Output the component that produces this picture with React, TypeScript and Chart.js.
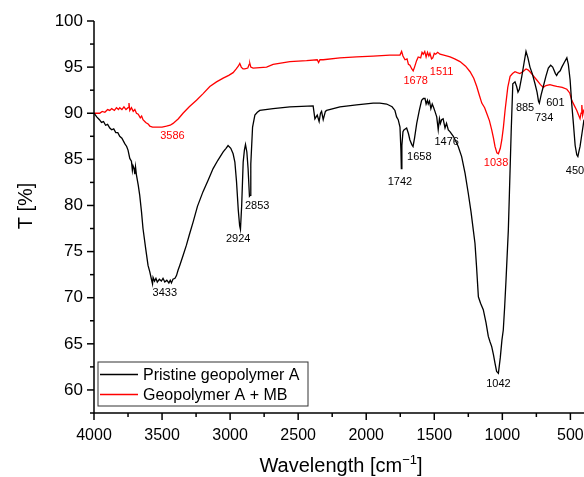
import { useEffect, useRef } from "react";
import { Chart, registerables } from "chart.js";

Chart.register(...registerables);

const seriesNames = ["Pristine geopolymer A", "Geopolymer A + MB"];
const seriesColors = ["#000000", "#ff0000"];

// [wavenumber cm-1, transmittance %]
const pristinePoints: [number, number][] = [
  [4000, 90.0], [3980, 89.6], [3960, 89.3], [3945, 89.0], [3930, 89.1], [3915, 88.7],
  [3900, 88.8], [3884, 88.4], [3870, 88.2], [3855, 88.3], [3840, 87.9], [3825, 87.9],
  [3811, 87.5], [3795, 87.3], [3774, 86.7], [3760, 86.4], [3750, 86.0], [3737, 85.1],
  [3725, 84.8], [3718, 83.8], [3713, 84.3], [3705, 84.0], [3700, 83.4], [3695, 84.2],
  [3688, 83.3], [3675, 82.2], [3664, 81.1], [3651, 79.3], [3640, 77.5], [3620, 75.3],
  [3603, 73.5], [3590, 72.8], [3578, 72.0], [3570, 71.5], [3566, 72.2], [3555, 71.8],
  [3545, 72.1], [3535, 71.7], [3520, 72.0], [3505, 71.8], [3493, 72.1], [3480, 71.7],
  [3465, 71.9], [3450, 71.6], [3440, 71.9], [3431, 71.6], [3420, 72.0], [3405, 72.1],
  [3394, 72.4], [3382, 73.0], [3370, 73.5], [3345, 74.6], [3321, 75.7], [3300, 76.8],
  [3272, 78.2], [3240, 79.9], [3199, 81.5], [3160, 82.8], [3125, 84.0], [3090, 84.9],
  [3051, 85.8], [3030, 86.2], [3015, 86.5], [2995, 86.2], [2978, 85.6], [2965, 84.7],
  [2953, 82.6], [2940, 79.5], [2930, 77.8], [2924, 77.4], [2915, 80.0], [2904, 84.7],
  [2895, 86.0], [2887, 86.6], [2877, 85.8], [2868, 84.0], [2858, 81.0], [2853, 81.1],
  [2848, 84.5], [2835, 88.5], [2818, 89.8], [2800, 90.1], [2782, 90.3], [2684, 90.5],
  [2561, 90.7], [2390, 90.8], [2377, 89.4], [2360, 89.8], [2346, 89.1], [2336, 90.0],
  [2328, 90.2], [2316, 89.3], [2300, 90.2], [2291, 90.3], [2193, 90.7], [2071, 90.9],
  [1949, 91.1], [1900, 91.1], [1850, 91.0], [1810, 90.7], [1789, 90.3], [1777, 89.6],
  [1765, 89.3], [1752, 88.5], [1745, 86.0], [1742, 84.0], [1738, 86.5], [1730, 88.0],
  [1723, 88.2], [1703, 88.4], [1690, 87.8], [1679, 87.1], [1665, 86.6], [1656, 86.4],
  [1645, 87.3], [1629, 88.9], [1610, 90.3], [1593, 91.4], [1580, 91.6], [1568, 91.6],
  [1560, 91.0], [1550, 91.4], [1544, 91.0], [1535, 91.3], [1525, 90.5], [1515, 91.0],
  [1507, 90.7], [1495, 90.2], [1482, 89.6], [1471, 88.2], [1462, 89.4], [1455, 88.9],
  [1446, 89.3], [1435, 89.4], [1421, 88.4], [1410, 88.9], [1397, 88.2], [1385, 88.0],
  [1360, 87.5], [1340, 86.9], [1324, 86.4], [1299, 85.3], [1274, 83.5], [1250, 81.3],
  [1230, 79.3], [1213, 77.3], [1201, 75.9], [1190, 73.5], [1176, 70.1], [1160, 69.4],
  [1140, 68.7], [1120, 67.3], [1103, 65.8], [1090, 65.2], [1078, 64.7], [1065, 63.8],
  [1054, 62.9], [1042, 62.0], [1029, 61.8], [1015, 63.5], [1003, 65.4], [993, 66.5],
  [983, 69.0], [973, 71.9], [956, 77.3], [948, 81.3], [935, 88.0], [923, 93.2],
  [907, 93.4], [895, 92.9], [885, 92.3], [875, 92.6], [857, 94.0], [840, 95.5],
  [826, 96.7], [812, 96.0], [797, 95.0], [780, 94.3], [760, 93.2], [745, 92.3],
  [734, 91.3], [728, 91.1], [715, 92.0], [699, 92.9], [680, 94.0], [662, 94.9],
  [645, 95.2], [630, 95.0], [610, 94.3], [601, 94.1], [590, 94.4], [575, 94.6],
  [563, 95.0], [545, 95.5], [526, 96.0], [515, 95.3], [502, 93.6], [490, 91.0],
  [478, 88.9], [465, 86.5], [453, 85.5], [445, 85.3], [438, 85.8], [429, 86.4],
  [415, 87.8], [404, 88.9], [400, 89.3],
];

const mbPoints: [number, number][] = [
  [4000, 90.0], [3980, 90.0], [3958, 90.0], [3940, 90.2], [3920, 90.1], [3900, 90.4],
  [3884, 90.3], [3870, 90.5], [3850, 90.3], [3835, 90.6], [3820, 90.4], [3811, 90.6],
  [3795, 90.4], [3780, 90.7], [3765, 90.4], [3750, 90.6], [3743, 91.1], [3737, 90.3],
  [3725, 90.6], [3712, 90.2], [3700, 90.4], [3688, 90.0], [3675, 89.9], [3660, 89.5],
  [3650, 89.7], [3640, 89.3], [3620, 89.0], [3600, 88.8], [3590, 88.6], [3570, 88.5],
  [3541, 88.5], [3500, 88.5], [3468, 88.6], [3440, 88.7], [3419, 88.9], [3380, 89.4],
  [3346, 90.0], [3300, 90.7], [3247, 91.4], [3200, 92.1], [3149, 92.9], [3100, 93.4],
  [3051, 93.8], [3010, 94.1], [2978, 94.4], [2955, 94.8], [2940, 95.1], [2929, 95.4],
  [2918, 95.0], [2905, 94.8], [2892, 94.8], [2870, 94.9], [2860, 95.3], [2855, 95.4],
  [2848, 95.0], [2831, 94.9], [2732, 95.0], [2684, 95.3], [2561, 95.6], [2438, 95.7],
  [2360, 95.8], [2350, 95.5], [2340, 95.8], [2316, 95.8], [2193, 96.0], [2071, 96.1],
  [1949, 96.2], [1826, 96.3], [1752, 96.3], [1740, 96.7], [1730, 96.2], [1715, 95.8],
  [1700, 95.9], [1690, 95.3], [1679, 95.2], [1665, 94.8], [1655, 94.6], [1645, 95.0],
  [1630, 95.7], [1618, 96.1], [1600, 96.0], [1590, 96.6], [1581, 96.4], [1570, 96.7],
  [1560, 96.1], [1550, 96.6], [1540, 96.2], [1532, 96.5], [1520, 95.9], [1511, 96.0],
  [1500, 96.5], [1490, 96.4], [1475, 96.6], [1458, 96.4], [1430, 96.3], [1384, 96.1],
  [1350, 95.9], [1311, 95.6], [1270, 95.1], [1237, 94.5], [1210, 93.8], [1188, 92.9],
  [1170, 92.0], [1151, 91.1], [1130, 90.6], [1115, 90.0], [1095, 89.2], [1078, 88.2],
  [1065, 87.3], [1054, 86.4], [1040, 85.7], [1029, 85.6], [1015, 86.2], [1004, 87.1],
  [992, 88.5], [980, 90.3], [960, 92.8], [943, 94.0], [925, 94.3], [907, 94.5],
  [890, 94.4], [871, 94.3], [850, 94.5], [826, 94.8], [812, 94.7], [797, 94.5],
  [775, 94.1], [747, 93.6], [720, 93.1], [699, 92.8], [680, 93.0], [650, 93.1],
  [625, 93.0], [600, 92.9], [560, 92.8], [526, 92.6], [505, 92.2], [490, 91.4],
  [470, 90.8], [453, 90.3], [440, 89.8], [429, 89.4], [422, 90.0], [416, 90.9],
  [410, 89.8], [404, 90.2], [400, 90.4],
];

// peak annotations: [text, wavenumber, T] (text anchor in data units)
const pristineLabels: [string, number, number][] = [
  ["3433", 3480, 70.5], ["2924", 2941, 76.4], ["2853", 2801, 80.0],
  ["1742", 1752, 82.6], ["1658", 1610, 85.3], ["1476", 1409, 86.9],
  ["1042", 1029, 60.6], ["885", 833, 90.6], ["734", 693, 89.5],
  ["601", 610, 91.1], ["450", 466, 83.7],
];
const mbLabels: [string, number, number][] = [
  ["3586", 3424, 87.5], ["1678", 1637, 93.5], ["1511", 1446, 94.5], ["1038", 1046, 84.6],
];

const xMajor = [4000, 3500, 3000, 2500, 2000, 1500, 1000, 500];
const xMinor = [3750, 3250, 2750, 2250, 1750, 1250, 750];
const yMajor = [60, 65, 70, 75, 80, 85, 90, 95, 100];
const yMinor = [57.5, 62.5, 67.5, 72.5, 77.5, 82.5, 87.5, 92.5, 97.5];

const xTitle = "Wavelength [cm";
const xTitleSup = "\u22121";
const yTitle = "T [%]";

const FONT = "'Liberation Sans', Arial, sans-serif";

const decorPlugin = {
  id: "decor",
  afterDraw(chart: any) {
    const { ctx, chartArea: a } = chart;
    const xs = chart.scales.x;
    const ys = chart.scales.y;
    ctx.save();
    ctx.strokeStyle = "#000";
    ctx.lineWidth = 1.5;
    ctx.beginPath();
    ctx.moveTo(a.left, a.top);
    ctx.lineTo(a.left, a.bottom);
    ctx.lineTo(a.right + 2, a.bottom);
    ctx.stroke();
    const seg = (x1: number, y1: number, x2: number, y2: number) => {
      ctx.beginPath();
      ctx.moveTo(x1, y1);
      ctx.lineTo(x2, y2);
      ctx.stroke();
    };
    xMajor.forEach((v) => { const p = xs.getPixelForValue(v); seg(p, a.bottom, p, a.bottom + 7); });
    xMinor.forEach((v) => { const p = xs.getPixelForValue(v); seg(p, a.bottom, p, a.bottom + 4); });
    yMajor.forEach((v) => { const p = ys.getPixelForValue(v); seg(a.left - 7, p, a.left, p); });
    yMinor.forEach((v) => { const p = ys.getPixelForValue(v); seg(a.left - 4, p, a.left, p); });

    // peak labels
    ctx.font = `11px ${FONT}`;
    ctx.textAlign = "center";
    ctx.textBaseline = "middle";
    ctx.fillStyle = seriesColors[0];
    pristineLabels.forEach(([t, wx, wy]) => ctx.fillText(t, xs.getPixelForValue(wx), ys.getPixelForValue(wy)));
    ctx.fillStyle = seriesColors[1];
    mbLabels.forEach(([t, wx, wy]) => ctx.fillText(t, xs.getPixelForValue(wx), ys.getPixelForValue(wy)));

    // axis titles
    ctx.fillStyle = "#000";
    ctx.font = `20px ${FONT}`;
    ctx.textBaseline = "alphabetic";
    ctx.textAlign = "left";
    const mainW = ctx.measureText(xTitle).width;
    ctx.font = `13px ${FONT}`;
    const supW = ctx.measureText(xTitleSup).width;
    ctx.font = `20px ${FONT}`;
    const brW = ctx.measureText("]").width;
    const total = mainW + supW + brW;
    const cx = 341;
    const base = 472;
    let sx = cx - total / 2;
    ctx.fillText(xTitle, sx, base);
    sx += mainW;
    ctx.font = `13px ${FONT}`;
    ctx.fillText(xTitleSup, sx, base - 8);
    sx += supW;
    ctx.font = `20px ${FONT}`;
    ctx.fillText("]", sx, base);

    ctx.save();
    ctx.translate(26, 206);
    ctx.rotate(-Math.PI / 2);
    ctx.textAlign = "center";
    ctx.textBaseline = "middle";
    ctx.fillText(yTitle, 0, 0);
    ctx.restore();

    // legend
    const bx = 98, by = 362, bw = 210, bh = 44;
    ctx.fillStyle = "#fff";
    ctx.fillRect(bx, by, bw, bh);
    ctx.strokeStyle = "#333";
    ctx.lineWidth = 1;
    ctx.strokeRect(bx, by, bw, bh);
    ctx.font = `16px ${FONT}`;
    ctx.textAlign = "left";
    ctx.textBaseline = "middle";
    seriesNames.forEach((name, i) => {
      const ly = 374.5 + i * 20;
      ctx.strokeStyle = seriesColors[i];
      ctx.lineWidth = 1.3;
      seg(100, ly, 138, ly);
      ctx.fillStyle = "#000";
      ctx.fillText(name, 143, ly + 1);
    });
    ctx.restore();
  },
};

export default function App() {
  const ref = useRef<HTMLCanvasElement | null>(null);
  useEffect(() => {
    document.body.style.margin = "0";
    const canvas = ref.current;
    if (!canvas) return;
    const chart = new Chart(canvas, {
      type: "line",
      data: {
        datasets: [
          {
            label: seriesNames[0],
            data: pristinePoints.map(([x, y]) => ({ x, y })),
            borderColor: seriesColors[0],
            borderWidth: 1.3,
            pointRadius: 0,
            fill: false,
            tension: 0,
          },
          {
            label: seriesNames[1],
            data: mbPoints.map(([x, y]) => ({ x, y })),
            borderColor: seriesColors[1],
            borderWidth: 1.3,
            pointRadius: 0,
            fill: false,
            tension: 0,
          },
        ],
      },
      options: {
        responsive: false,
        animation: false,
        events: [],
        layout: { padding: { top: 21, right: 0, left: 0, bottom: 0 } },
        plugins: { legend: { display: false }, tooltip: { enabled: false } },
        scales: {
          x: {
            type: "linear",
            reverse: true,
            min: 400,
            max: 4000,
            afterBuildTicks: (s: any) => { s.ticks = xMajor.map((v) => ({ value: v })); },
            afterFit: (s: any) => { s.height = 64; s.paddingRight = 0; s.paddingLeft = 0; },
            grid: { display: false, drawTicks: false },
            border: { display: false },
            ticks: {
              color: "#000",
              font: { family: FONT, size: 16 },
              padding: 13,
              maxRotation: 0,
              autoSkip: false,
              callback: (v: any) => String(v),
            },
          },
          y: {
            type: "linear",
            min: 57.5,
            max: 100,
            afterBuildTicks: (s: any) => { s.ticks = yMajor.map((v) => ({ value: v })); },
            afterFit: (s: any) => { s.width = 94; s.paddingTop = 0; s.paddingBottom = 0; },
            grid: { display: false, drawTicks: false },
            border: { display: false },
            ticks: {
              color: "#000",
              font: { family: FONT, size: 17 },
              padding: 11,
              callback: (v: any) => String(v),
            },
          },
        },
      },
      plugins: [decorPlugin],
    } as any);
    return () => chart.destroy();
  }, []);
  return (
    <div style={{ width: 584, height: 477 }}>
      <canvas ref={ref} width={584} height={477} style={{ display: "block" }} />
    </div>
  );
}
